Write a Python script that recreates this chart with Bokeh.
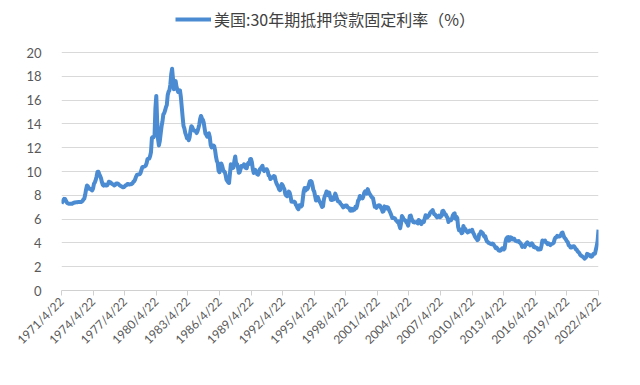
import calendar
from datetime import datetime
from bokeh.plotting import figure
from bokeh.models import FixedTicker, Range1d, Legend, LegendItem, ColumnDataSource
from bokeh.embed import file_html
from bokeh.resources import INLINE

# Monthly values (%), April 1971 .. April 2022
rates_1971 = [7.31, 7.43, 7.60, 7.70, 7.69, 7.55, 7.40, 7.33, 7.30]
rates_1972 = [7.30, 7.29, 7.29, 7.29, 7.34, 7.37, 7.40, 7.40, 7.42, 7.42, 7.43, 7.44]
rates_1973 = [7.44, 7.44, 7.46, 7.54, 7.65, 7.73, 8.05, 8.50, 8.82, 8.77, 8.58, 8.54]
rates_1974 = [8.54, 8.46, 8.41, 8.58, 8.97, 9.09, 9.28, 9.59, 9.96, 9.98, 9.79, 9.62]
rates_1975 = [9.43, 9.10, 8.89, 8.82, 8.91, 8.89, 8.82, 8.84, 8.95, 9.14, 9.10, 9.08]
rates_1976 = [8.99, 8.94, 8.91, 8.82, 8.86, 8.97, 8.99, 9.00, 8.93, 8.85, 8.80, 8.76]
rates_1977 = [8.72, 8.67, 8.69, 8.75, 8.83, 8.86, 8.94, 8.94, 8.90, 8.92, 8.92, 8.96]
rates_1978 = [9.02, 9.15, 9.20, 9.35, 9.57, 9.71, 9.74, 9.77, 9.76, 9.86, 10.11, 10.35]
rates_1979 = [10.39, 10.41, 10.43, 10.50, 10.69, 11.04, 11.09, 11.09, 11.30, 11.64, 12.83, 12.90]
rates_1980 = [12.88, 13.04, 15.28, 16.35, 14.26, 12.71, 12.19, 12.56, 13.20, 13.79, 14.21, 14.79]
rates_1981 = [14.90, 15.13, 15.40, 15.58, 16.40, 16.70, 16.83, 17.29, 18.16, 18.63, 17.83, 16.92]
rates_1982 = [17.40, 17.60, 17.16, 16.89, 16.68, 16.70, 16.82, 16.27, 15.43, 14.61, 13.83, 13.62]
rates_1983 = [13.25, 13.04, 12.80, 12.78, 12.63, 12.87, 13.42, 13.81, 13.73, 13.54, 13.44, 13.42]
rates_1984 = [13.37, 13.23, 13.39, 13.65, 13.94, 14.42, 14.67, 14.47, 14.35, 14.13, 13.64, 13.18]
rates_1985 = [13.08, 12.92, 13.17, 13.20, 12.91, 12.22, 12.03, 12.19, 12.19, 12.14, 11.78, 11.26]
rates_1986 = [10.88, 10.71, 10.08, 9.94, 10.14, 10.68, 10.51, 10.20, 10.01, 9.98, 9.70, 9.31]
rates_1987 = [9.20, 9.08, 9.04, 9.83, 10.60, 10.54, 10.28, 10.33, 10.89, 11.26, 10.65, 10.64]
rates_1988 = [10.38, 9.89, 9.93, 10.20, 10.46, 10.46, 10.43, 10.60, 10.48, 10.30, 10.27, 10.61]
rates_1989 = [10.73, 10.65, 11.03, 11.05, 10.77, 10.20, 9.88, 9.99, 10.13, 9.95, 9.77, 9.74]
rates_1990 = [9.90, 10.20, 10.27, 10.37, 10.48, 10.16, 10.04, 10.10, 10.18, 10.18, 10.01, 9.67]
rates_1991 = [9.64, 9.37, 9.50, 9.49, 9.47, 9.62, 9.58, 9.24, 9.01, 8.86, 8.71, 8.50]
rates_1992 = [8.43, 8.76, 8.94, 8.85, 8.67, 8.51, 8.13, 7.98, 7.92, 8.09, 8.31, 8.22]
rates_1993 = [7.91, 7.47, 7.46, 7.46, 7.47, 7.42, 7.21, 7.11, 6.92, 6.83, 7.16, 7.17]
rates_1994 = [7.06, 7.15, 7.68, 8.32, 8.60, 8.40, 8.61, 8.51, 8.64, 8.93, 9.17, 9.20]
rates_1995 = [9.15, 8.83, 8.46, 8.32, 7.96, 7.57, 7.61, 7.86, 7.64, 7.48, 7.38, 7.20]
rates_1996 = [7.03, 7.08, 7.62, 7.93, 8.07, 8.32, 8.25, 8.00, 8.23, 7.92, 7.62, 7.60]
rates_1997 = [7.82, 7.65, 7.90, 8.14, 7.94, 7.69, 7.50, 7.48, 7.43, 7.29, 7.21, 7.10]
rates_1998 = [6.99, 7.04, 7.13, 7.14, 7.14, 7.00, 6.95, 6.92, 6.72, 6.71, 6.87, 6.72]
rates_1999 = [6.79, 6.81, 7.04, 6.92, 7.15, 7.55, 7.63, 7.94, 7.82, 7.85, 7.74, 7.91]
rates_2000 = [8.21, 8.33, 8.24, 8.15, 8.52, 8.29, 8.15, 8.03, 7.91, 7.80, 7.75, 7.38]
rates_2001 = [7.03, 7.05, 6.95, 7.08, 7.15, 7.16, 7.13, 6.95, 6.82, 6.62, 6.66, 7.07]
rates_2002 = [7.00, 6.89, 7.01, 6.99, 6.81, 6.65, 6.49, 6.29, 6.09, 6.11, 6.07, 6.05]
rates_2003 = [5.92, 5.84, 5.75, 5.81, 5.48, 5.23, 5.63, 6.26, 6.15, 5.95, 5.93, 5.88]
rates_2004 = [5.74, 5.64, 5.45, 5.83, 6.27, 6.29, 6.06, 5.87, 5.75, 5.72, 5.73, 5.75]
rates_2005 = [5.71, 5.63, 5.93, 5.86, 5.72, 5.58, 5.70, 5.82, 5.77, 6.07, 6.33, 6.27]
rates_2006 = [6.15, 6.25, 6.32, 6.51, 6.60, 6.68, 6.76, 6.52, 6.40, 6.36, 6.24, 6.14]
rates_2007 = [6.22, 6.29, 6.16, 6.18, 6.26, 6.66, 6.70, 6.57, 6.38, 6.38, 6.21, 6.10]
rates_2008 = [5.76, 5.92, 5.97, 5.92, 6.04, 6.32, 6.43, 6.48, 6.04, 6.20, 6.09, 5.33]
rates_2009 = [5.06, 5.13, 5.00, 4.81, 4.86, 5.42, 5.22, 5.19, 5.06, 4.95, 4.88, 4.93]
rates_2010 = [5.03, 4.99, 4.97, 5.10, 4.89, 4.74, 4.56, 4.43, 4.35, 4.23, 4.30, 4.71]
rates_2011 = [4.76, 4.95, 4.84, 4.84, 4.64, 4.51, 4.55, 4.27, 4.11, 4.07, 3.99, 3.96]
rates_2012 = [3.92, 3.89, 3.95, 3.91, 3.80, 3.68, 3.55, 3.60, 3.50, 3.38, 3.35, 3.35]
rates_2013 = [3.41, 3.53, 3.57, 3.45, 3.54, 4.07, 4.37, 4.46, 4.49, 4.19, 4.26, 4.46]
rates_2014 = [4.43, 4.30, 4.34, 4.34, 4.19, 4.16, 4.13, 4.12, 4.16, 4.04, 4.00, 3.86]
rates_2015 = [3.67, 3.71, 3.77, 3.67, 3.84, 3.98, 4.05, 3.91, 3.89, 3.80, 3.94, 3.96]
rates_2016 = [3.87, 3.66, 3.69, 3.61, 3.60, 3.57, 3.44, 3.44, 3.46, 3.47, 3.77, 4.20]
rates_2017 = [4.15, 4.17, 4.20, 4.05, 4.01, 3.90, 3.97, 3.88, 3.81, 3.90, 3.92, 3.95]
rates_2018 = [4.03, 4.33, 4.44, 4.47, 4.59, 4.57, 4.53, 4.55, 4.63, 4.83, 4.87, 4.64]
rates_2019 = [4.46, 4.37, 4.27, 4.14, 4.07, 3.80, 3.77, 3.62, 3.61, 3.69, 3.70, 3.72]
rates_2020 = [3.62, 3.47, 3.45, 3.31, 3.23, 3.16, 3.02, 2.94, 2.89, 2.83, 2.77, 2.68]
rates_2021 = [2.74, 2.81, 3.08, 3.06, 2.96, 2.98, 2.87, 2.84, 2.90, 3.07, 3.07, 3.10]
rates_2022 = [3.45, 3.76, 4.17, 5.11]

series_name = "美国:30年期抵押贷款固定利率（%）"
tick_labels = ["1971/4/22", "1974/4/22", "1977/4/22", "1980/4/22", "1983/4/22",
               "1986/4/22", "1989/4/22", "1992/4/22", "1995/4/22", "1998/4/22",
               "2001/4/22", "2004/4/22", "2007/4/22", "2010/4/22", "2013/4/22",
               "2016/4/22", "2019/4/22", "2022/4/22"]
y_ticks = [0, 2, 4, 6, 8, 10, 12, 14, 16, 18, 20]

rates = (rates_1971 + rates_1972 + rates_1973 + rates_1974 + rates_1975 + rates_1976 +
         rates_1977 + rates_1978 + rates_1979 + rates_1980 + rates_1981 + rates_1982 +
         rates_1983 + rates_1984 + rates_1985 + rates_1986 + rates_1987 + rates_1988 +
         rates_1989 + rates_1990 + rates_1991 + rates_1992 + rates_1993 + rates_1994 +
         rates_1995 + rates_1996 + rates_1997 + rates_1998 + rates_1999 + rates_2000 +
         rates_2001 + rates_2002 + rates_2003 + rates_2004 + rates_2005 + rates_2006 +
         rates_2007 + rates_2008 + rates_2009 + rates_2010 + rates_2011 + rates_2012 +
         rates_2013 + rates_2014 + rates_2015 + rates_2016 + rates_2017 + rates_2018 +
         rates_2019 + rates_2020 + rates_2021 + rates_2022)


def ms(d):
    return calendar.timegm(d.timetuple()) * 1000.0


dates = []
for i in range(len(rates)):
    m = 3 + i  # April 1971 = index 0
    dates.append(datetime(1971 + m // 12, m % 12 + 1, 22))

src = ColumnDataSource(dict(x=dates, y=rates))

tick_dates = []
for lab in tick_labels:
    y, mo, d = [int(t) for t in lab.split("/")]
    tick_dates.append(ms(datetime(y, mo, d)))

# frame spans the full top; 0..20 occupies the lower 238 px of 290 px
p = figure(width=624, height=369, x_axis_type="datetime", output_backend="svg",
           toolbar_location=None, min_border_left=61, min_border_right=26,
           min_border_top=0, min_border_bottom=79)
p.x_range = Range1d(tick_dates[0], tick_dates[-1])
p.y_range = Range1d(0, 20 * 290 / 238)
p.outline_line_color = None
p.background_fill_color = "white"

r = p.line("x", "y", source=src, line_color="#4A8BD2", line_width=4, line_join="round")

p.xgrid.grid_line_color = None
p.ygrid.grid_line_color = "#D9D9D9"
p.ygrid.ticker = FixedTicker(ticks=y_ticks)

xa = p.xaxis[0]
xa.ticker = FixedTicker(ticks=tick_dates)
xa.major_label_overrides = {t: l for t, l in zip(tick_dates, tick_labels)}
xa.major_label_orientation = 0.785
xa.axis_line_color = "#D0D0D0"
xa.major_tick_line_color = "#D0D0D0"
xa.major_tick_out = 5
xa.major_tick_in = 0
xa.minor_tick_line_color = None
xa.major_label_text_font = "Lato"
xa.major_label_text_font_size = "12px"
xa.major_label_text_color = "#595959"
xa.major_label_standoff = 4

ya = p.yaxis[0]
ya.ticker = FixedTicker(ticks=y_ticks)
ya.axis_line_color = None
ya.major_tick_line_color = None
ya.minor_tick_line_color = None
ya.major_label_text_font = "Lato"
ya.major_label_text_font_size = "13px"
ya.major_label_text_color = "#595959"
ya.major_label_standoff = 14

legend = Legend(items=[LegendItem(label=series_name, renderers=[r])],
                location=(114, 259), orientation="horizontal",
                border_line_color=None, background_fill_alpha=0,
                padding=0, margin=0, glyph_width=36, glyph_height=20,
                label_standoff=3, label_text_font="Noto Sans CJK SC",
                label_text_font_size="16px", label_text_color="#404040")
p.add_layout(legend, "center")

open("out.html", "w").write(file_html(p, INLINE))
